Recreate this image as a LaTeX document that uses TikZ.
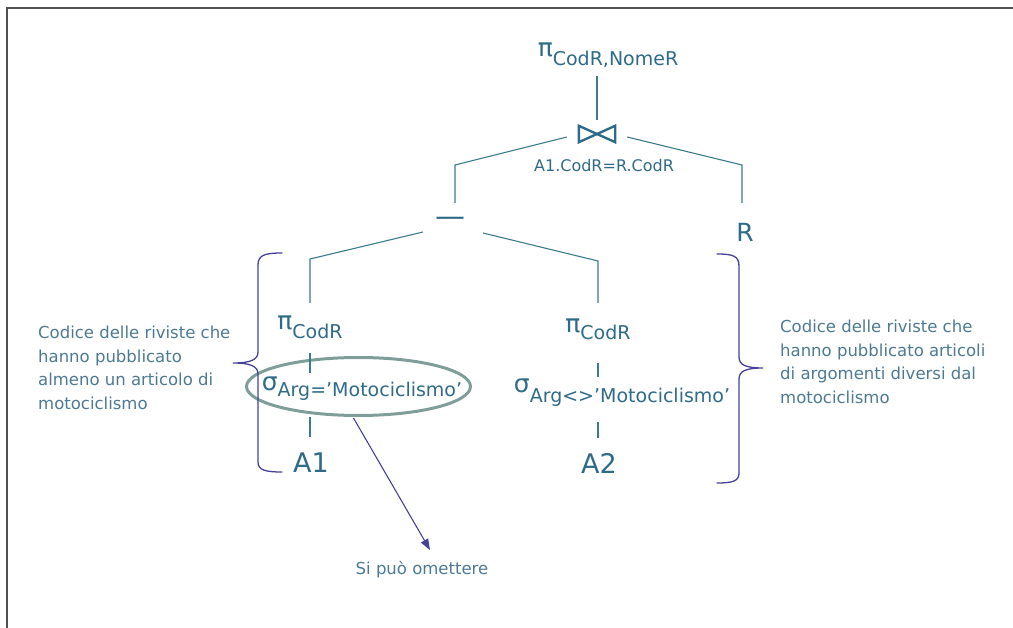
\documentclass[tikz,border=0pt]{standalone}
\usepackage{fontspec}
\setmainfont{DejaVu Sans}
\usetikzlibrary{arrows.meta,calc,shapes.geometric}
\definecolor{treetext}{HTML}{2E6B88}
\definecolor{treeline}{HTML}{3B7B8C}
\definecolor{notetext}{HTML}{4D7A92}
\definecolor{bracecol}{HTML}{45409A}
\definecolor{ellcol}{HTML}{7F9E99}
\definecolor{framecol}{HTML}{505050}
\newcommand{\opsym}[3]{#1\raisebox{#3}{\fontsize{19}{19}\selectfont #2}}
\begin{document}
\begin{tikzpicture}[x=1pt,y=-1pt,
  op/.style={text=treetext, font=\fontsize{25}{28}\selectfont, inner sep=0pt},
  rel/.style={text=treetext, font=\fontsize{27}{30}\selectfont, inner sep=0pt},
  cond/.style={text=treetext, font=\fontsize{16}{18}\selectfont, inner sep=0pt},
  edge/.style={draw=treeline, line width=1.1pt},
  note/.style={text=notetext, font=\fontsize{16.5}{23.5}\selectfont, align=left, inner sep=0pt},
  bracket/.style={draw=bracecol, line width=1.3pt, line cap=round},
  pointer/.style={draw=bracecol, line width=1.1pt, -{Triangle[length=11pt,width=8pt]}},
]
\useasboundingbox (0,0) rectangle (1013,628);
% frame
\draw[framecol, line width=1.6pt] (7,628) -- (7,8) -- (1013,8);

% tree nodes
\node[op] (proj0) at (608,55) {\opsym{π}{CodR,NomeR}{-9pt}};
\node[minimum width=36pt, minimum height=16pt, inner sep=0pt] (join) at (597,134) {};
\draw[treetext, line width=2.4pt, line join=miter]
  (join.north west) -- (join.south west) -- (join.north east) -- (join.south east) -- cycle;
\node[cond] (jcond) at (604,166) {A1.CodR=R.CodR};
\node[op, font=\fontsize{30}{30}\selectfont] (minus) at (450,222) {—};
\node[op] (R) at (745,232) {R};

\node[op] (pl) at (310,327) {\opsym{π}{CodR}{-9pt}};
\node[op] (sl) at (362,389) {\opsym{σ}{Arg=’Motociclismo’}{-6pt}};
\node[rel] (A1) at (311,463) {A1};

\node[op] (pr) at (598,329) {\opsym{π}{CodR}{-7pt}};
\node[op] (sr) at (622,393) {\opsym{σ}{Arg<>’Motociclismo’}{-10pt}};
\node[rel] (A2) at (599,463) {A2};

% ellipse highlight
\node[draw=ellcol, line width=3pt, ellipse, minimum width=224pt, minimum height=58pt, inner sep=0pt] (ell) at (358.5,386.5) {};

% connectors
\draw[edge, shorten <=6pt, shorten >=8pt] (join.north) -- (join.north |- proj0.south);
\draw[edge] ($(join.west)+(-12,3)$) -- ($(minus)+(5,-57)$) -- ($(minus)+(5,-19)$);
\draw[edge] ($(join.east)+(12,3)$) -- ($(R)+(-3,-67)$) -- ($(R)+(-3,-29)$);
\draw[edge] ($(minus)+(-27,10)$) -- ($(pl)+(0,-68)$) -- ($(pl)+(0,-24)$);
\draw[edge] ($(minus)+(33,11)$) -- ($(pr)+(0,-68)$) -- ($(pr)+(0,-26)$);
\draw[edge] ($(pl)+(0,26)$) -- ($(pl |- sl)+(0,-16)$);
\draw[edge] ($(pl |- sl)+(0,28)$) -- ($(A1)+(-1,-26)$);
\draw[edge] ($(pr)+(0,34)$) -- ($(pr |- sr)+(0,-16)$);
\draw[edge] ($(pr |- sr)+(0,29)$) -- ($(A2)+(-1,-25)$);

% braces
\draw[bracket] (282,253) .. controls (265,253) and (258,255) .. (258,265) -- (258,352)
  .. controls (258,360) and (250,363) .. (233,363)
  .. controls (250,363) and (258,366) .. (258,374) -- (258,462)
  .. controls (258,470) and (265,472) .. (282,472);
\draw[bracket] (717,254) .. controls (733,254) and (739,256) .. (739,266) -- (739,357)
  .. controls (739,365) and (746,368) .. (763,368)
  .. controls (746,368) and (739,371) .. (739,379) -- (739,473)
  .. controls (739,481) and (733,483) .. (717,483);

% notes
\node[note, anchor=west] (notel) at (38,368) {Codice delle riviste che\\hanno pubblicato\\almeno un articolo di\\motociclismo};
\node[note, anchor=west] (noter) at (780,362) {Codice delle riviste che\\hanno pubblicato articoli\\di argomenti diversi dal\\motociclismo};
\node[note] (omit) at (422,570) {Si può omettere};
\draw[pointer] ($(ell.south)+(-5,1)$) -- ($(omit)+(8,-20)$);
\end{tikzpicture}
\end{document}
